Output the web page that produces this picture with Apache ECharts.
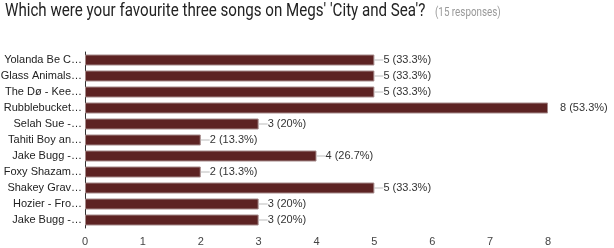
<!DOCTYPE html>
<html>
<head>
<meta charset="utf-8">
<script src="https://cdn.jsdelivr.net/npm/echarts@6/dist/echarts.min.js"></script>
<style>
  html, body { margin: 0; padding: 0; background: #fff; }
  #main { width: 614px; height: 248px; }
</style>
</head>
<body>
<div id="main"></div>
<script>
var songs = ['Yolanda Be C…', 'Glass Animals…', 'The Dø - Kee…', 'Rubblebucket…', 'Selah Sue -…',
    'Tahiti Boy an…', 'Jake Bugg -…', 'Foxy Shazam…', 'Shakey Grav…', 'Hozier - Fro…', 'Jake Bugg -…'];
var votes = [5, 5, 5, 8, 3, 2, 4, 2, 5, 3, 3];
var responses = 15;
var xTicks = [0, 1, 2, 3, 4, 5, 6, 7, 8];

// percentage text like "33.3%" / "20%"
function pct(v) {
    var p = Math.round(v / responses * 1000) / 10;
    return p + '%';
}

var chart = echarts.init(document.getElementById('main'));
var option = {
    animation: false,
    // title drawn as graphic text so it can be condensed like the original
    graphic: [{
        type: 'text',
        x: 5,
        y: 2,
        scaleX: 0.84,
        style: {
            text: "Which were your favourite three songs on Megs' 'City and Sea'?",
            font: '18px Roboto',
            fill: '#222',
            textVerticalAlign: 'top'
        }
    }, {
        type: 'text',
        x: 435,
        y: 7,
        scaleX: 0.82,
        style: {
            text: '(' + responses + ' responses)',
            font: '12px Roboto',
            fill: '#999',
            textVerticalAlign: 'top'
        }
    }],
    grid: { left: 85, right: 66, top: 52, bottom: 20, outerBoundsMode: 'none' },
    xAxis: {
        type: 'value',
        min: xTicks[0],
        max: xTicks[xTicks.length - 1],
        interval: 1,
        axisLine: { show: false },
        axisTick: { show: false },
        splitLine: { show: false },
        axisLabel: { color: '#444', fontFamily: 'Liberation Sans', fontSize: 11, margin: 8 }
    },
    yAxis: {
        type: 'category',
        data: songs,
        inverse: true,
        axisLine: { show: true, lineStyle: { color: '#333', width: 1 } },
        axisTick: { show: false },
        axisLabel: { color: '#222', fontFamily: 'Liberation Sans', fontSize: 11, margin: 3 }
    },
    series: [{
        type: 'bar',
        data: votes,
        barWidth: 11,
        itemStyle: { color: '#5d2323', borderColor: '#a58a8a', borderWidth: 1 },
        label: {
            show: true,
            position: 'right',
            distance: 0,
            color: '#333',
            fontFamily: 'Liberation Sans',
            fontSize: 11,
            formatter: function (p) {
                var t = p.value + ' (' + pct(p.value) + ')';
                if (p.value === 8) return '{g|}' + t;
                return '{l|}' + t;
            },
            rich: {
                l: { width: 9, height: 1, backgroundColor: '#bbb', padding: 0 },
                g: { width: 12, height: 1 }
            }
        }
    }]
};
chart.setOption(option);
</script>
</body>
</html>
